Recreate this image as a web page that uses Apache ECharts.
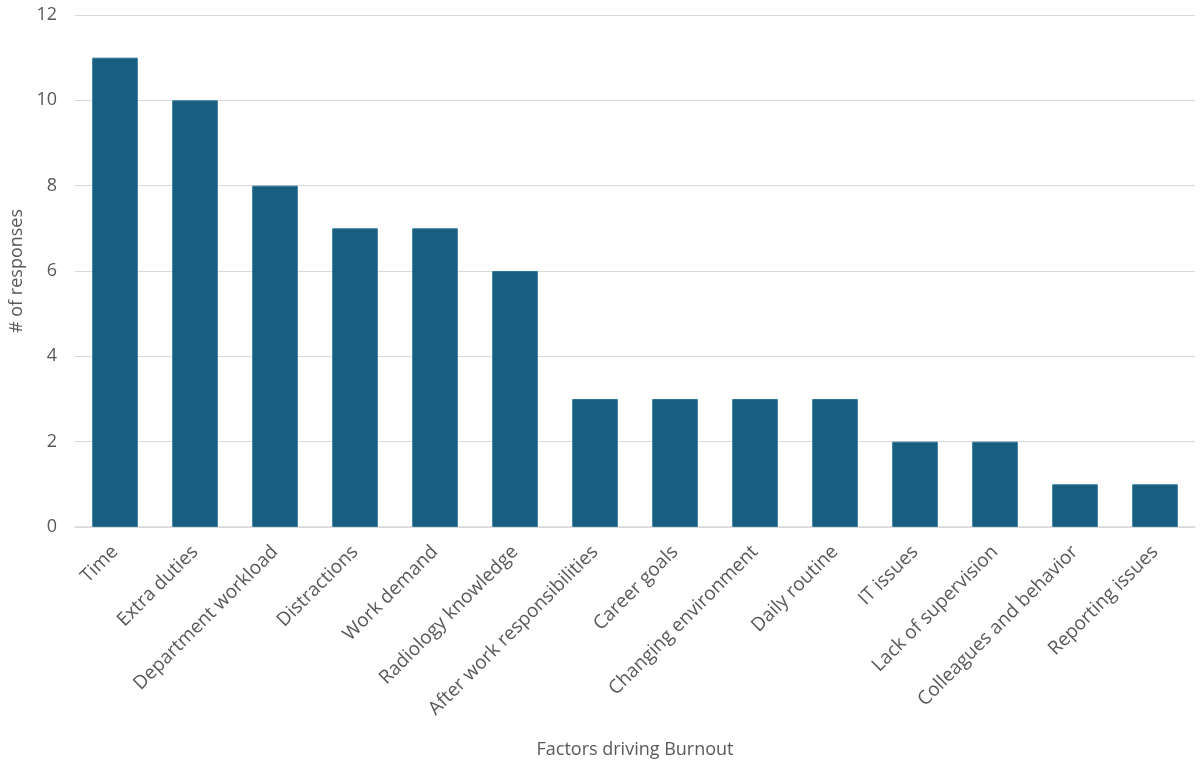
<!DOCTYPE html>
<html><head><meta charset="utf-8">
<script src="https://cdn.jsdelivr.net/npm/echarts@6/dist/echarts.min.js"></script>
<style>html,body{margin:0;padding:0;background:#fff}#c{width:1200px;height:764px}</style>
</head><body><div id="c"></div>
<script>
const categories = ["Time","Extra duties","Department workload","Distractions","Work demand","Radiology knowledge","After work responsibilities","Career goals","Changing environment","Daily routine","IT issues","Lack of supervision","Colleagues and behavior","Reporting issues"];
const responses = [11,10,8,7,7,6,3,3,3,3,2,2,1,1];
const yTicks = {min:0,max:12,interval:2};
const font = "'Open Sans', 'Noto Sans', sans-serif";
const chart = echarts.init(document.getElementById('c'));
chart.setOption({
  animation:false,
  grid:{left:75,right:5,top:15,bottom:237,containLabel:false,outerBoundsMode:'none'},
  xAxis:{type:'category',data:categories,
    name:'Factors driving Burnout',nameLocation:'middle',nameGap:214,
    nameTextStyle:{fontFamily:font,fontSize:18,color:'#595959'},
    axisLine:{lineStyle:{color:'#d9d9d9',width:1.5}},axisTick:{show:false},
    axisLabel:{rotate:45,interval:0,fontFamily:font,fontSize:19,color:'#595959',margin:22}},
  yAxis:{type:'value',min:yTicks.min,max:yTicks.max,interval:yTicks.interval,
    name:'# of responses',nameLocation:'middle',nameGap:48,
    nameTextStyle:{fontFamily:font,fontSize:18,color:'#595959'},
    axisLine:{show:false},axisTick:{show:false},
    splitLine:{lineStyle:{color:'#d9d9d9',width:1}},
    axisLabel:{fontFamily:font,fontSize:18,color:'#595959',margin:18}},
  series:[{type:'bar',data:responses,barWidth:'57%',
    itemStyle:{color:'#175e80',borderColor:'#2a7496',borderWidth:1}}]
});
</script></body></html>
